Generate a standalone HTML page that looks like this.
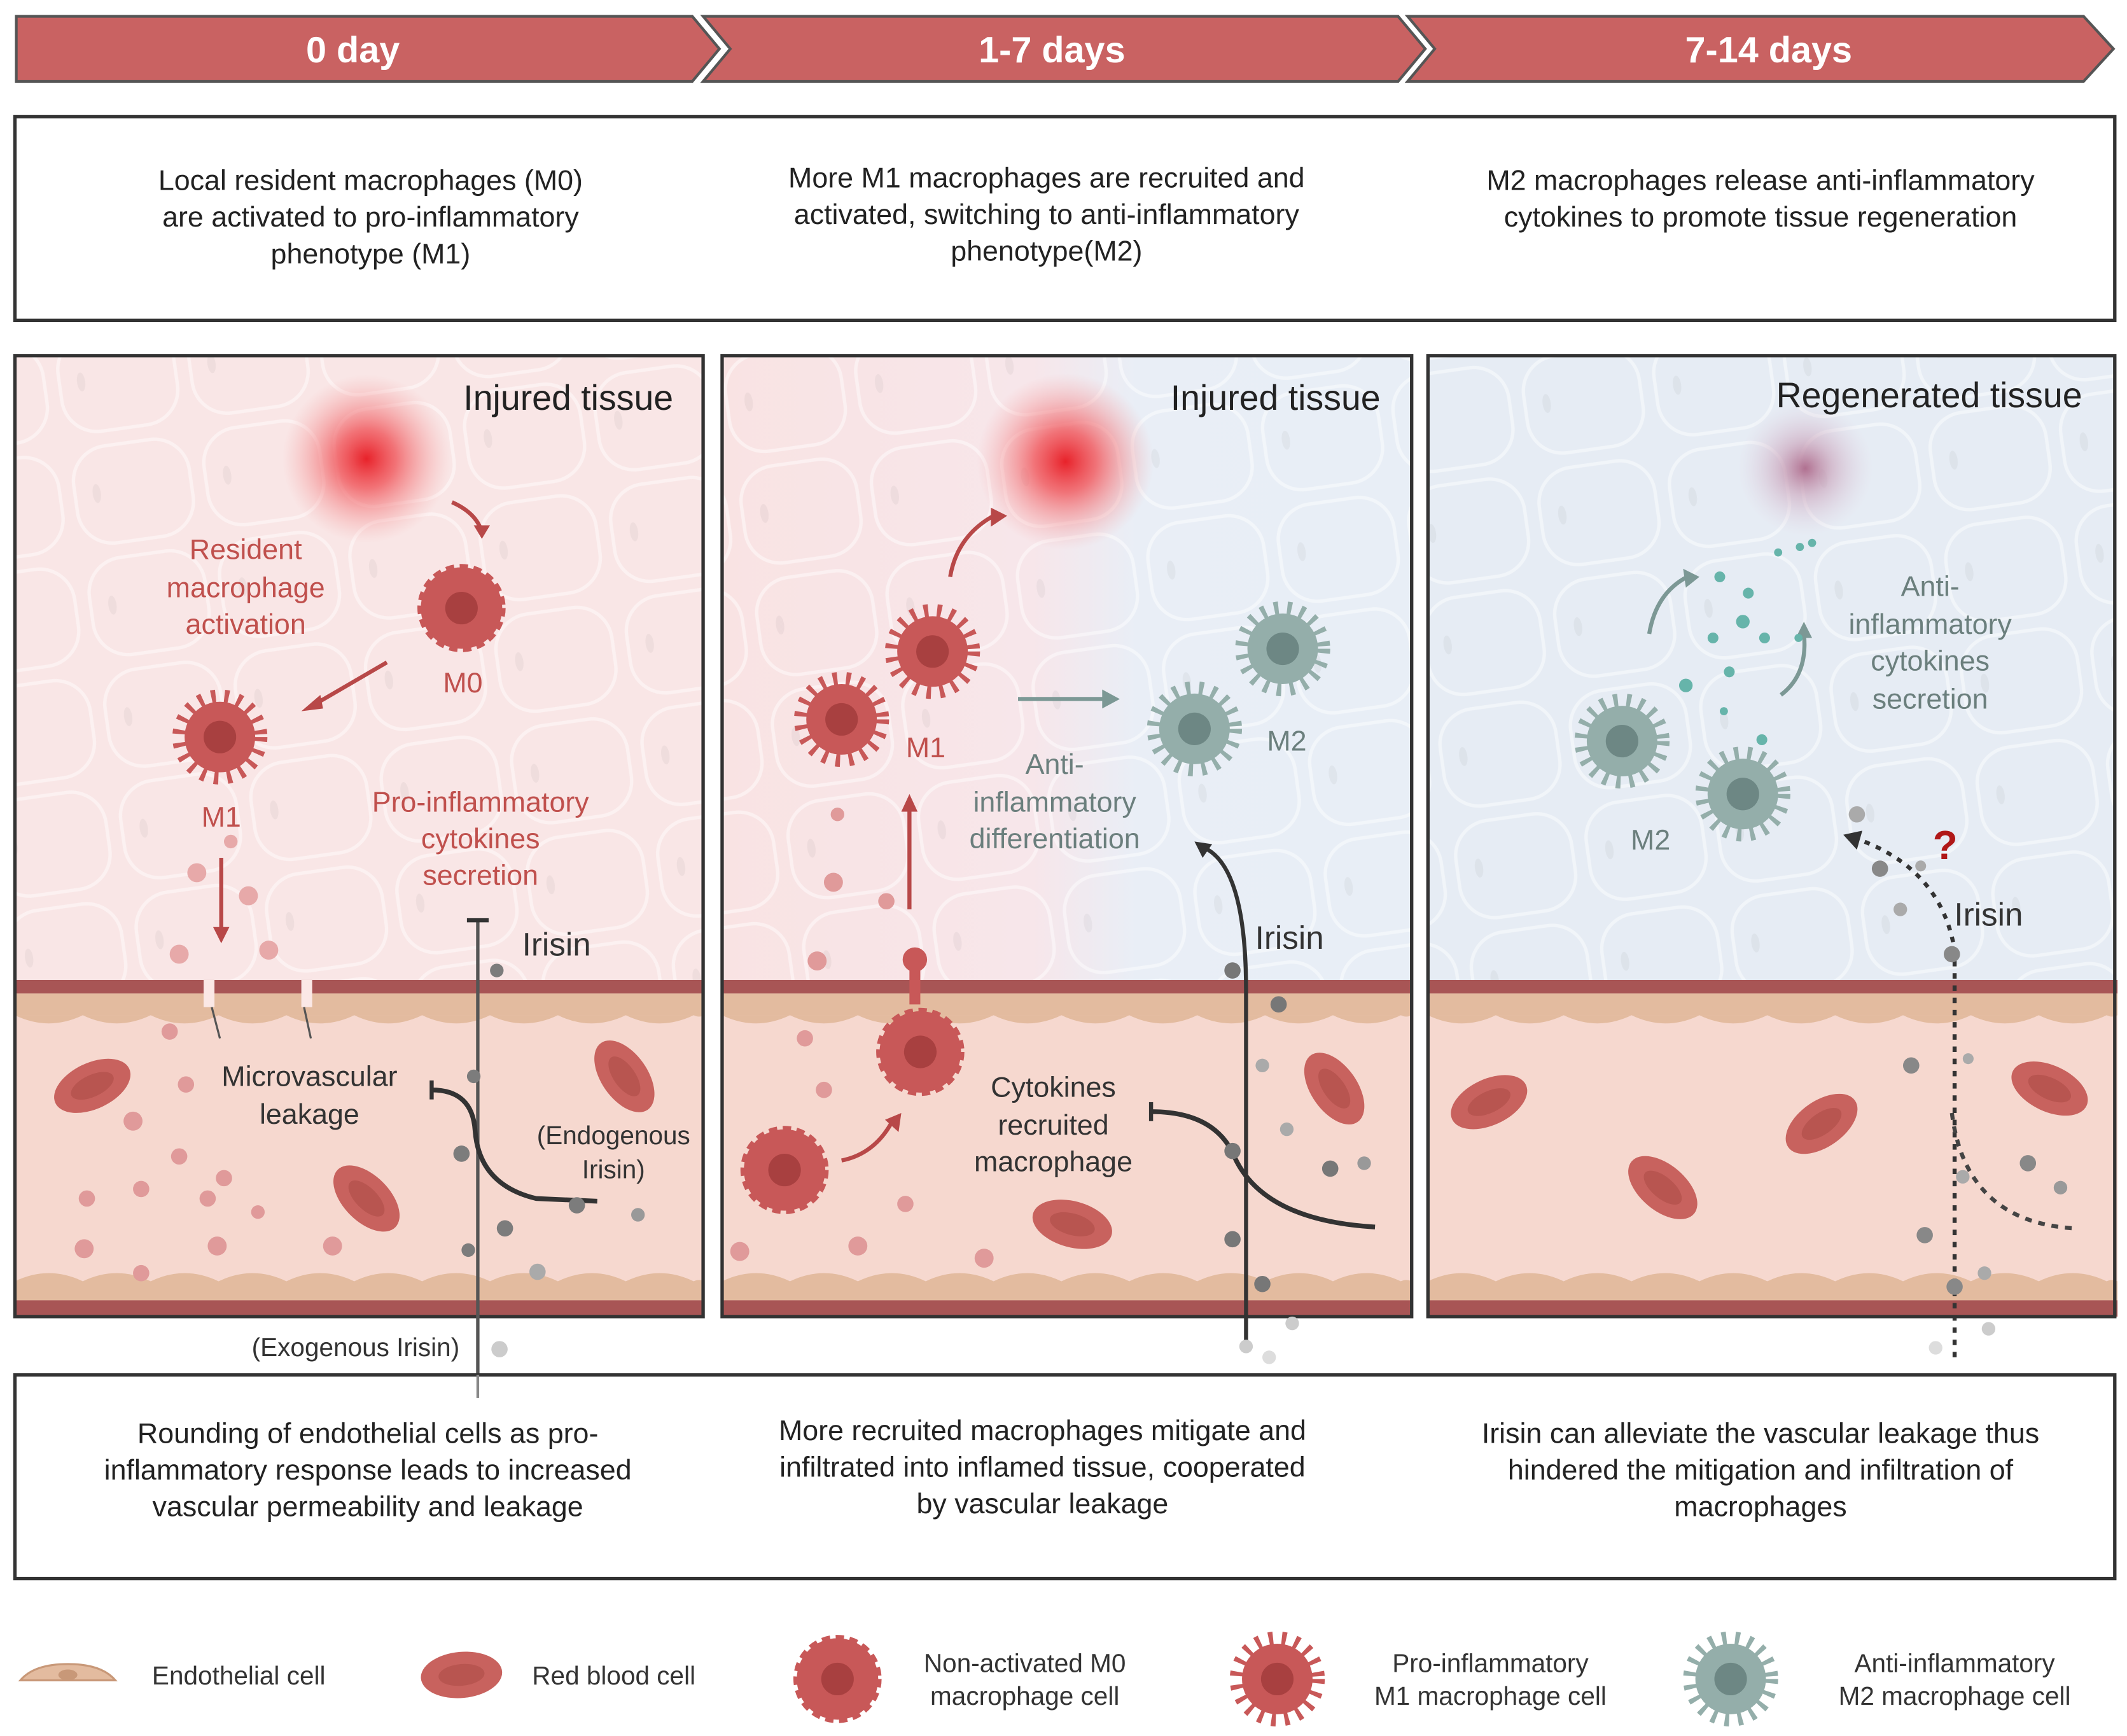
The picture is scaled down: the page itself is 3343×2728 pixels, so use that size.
<!DOCTYPE html>
<html><head><meta charset="utf-8"><style>
html,body{margin:0;padding:0;background:#fff;}
svg{display:block;}
text{font-family:"Liberation Sans",sans-serif;}
</style></head><body>
<svg width="3343" height="2728" viewBox="0 0 1567 1279" preserveAspectRatio="none" xmlns="http://www.w3.org/2000/svg">
<defs>
<radialGradient id="glow"><stop offset="0" stop-color="#e8222a"/><stop offset="0.35" stop-color="#f0555a" stop-opacity="0.8"/><stop offset="1" stop-color="#f5a0a0" stop-opacity="0"/></radialGradient>
<radialGradient id="glowp"><stop offset="0" stop-color="#b07090"/><stop offset="0.4" stop-color="#c9a0b8" stop-opacity="0.6"/><stop offset="1" stop-color="#e0d0e0" stop-opacity="0"/></radialGradient>
<linearGradient id="mid" x1="0" x2="1"><stop offset="0" stop-color="#f9e3e3"/><stop offset="0.45" stop-color="#f7e6ea"/><stop offset="0.6" stop-color="#e9eef6"/><stop offset="1" stop-color="#e8eef6"/></linearGradient>
<pattern id="cells" width="97" height="83" patternUnits="userSpaceOnUse" patternTransform="rotate(-8)">
<rect x="4" y="4" width="86" height="72" rx="26" fill="none" stroke="#ffffff" stroke-opacity="0.45" stroke-width="2.5"/>
<ellipse cx="20" cy="38" rx="3" ry="7" fill="#000" fill-opacity="0.04"/>
</pattern>
<g id="m1"><circle r="28" fill="none" stroke="#c85858" stroke-width="14" stroke-dasharray="3 6"/><circle r="26" fill="#c85858"/><circle r="12" fill="#a84040"/></g>
<g id="m2"><circle r="28" fill="none" stroke="#94aeaa" stroke-width="14" stroke-dasharray="3 6"/><circle r="26" fill="#94aeaa"/><circle r="12" fill="#6d8784"/></g>
<g id="m0"><circle r="30" fill="none" stroke="#c85858" stroke-width="5" stroke-dasharray="6 4"/><circle r="30" fill="#c85858"/><circle r="12" fill="#a84040"/></g>
<g id="rbc"><ellipse rx="30" ry="17" fill="#c8625e"/><ellipse rx="17" ry="8" fill="#b85550"/></g>
<g id="vessel">
<rect x="0" y="0" width="508" height="248" fill="#f6d8cf"/>
<rect x="0" y="0" width="508" height="10" fill="#a85555"/>
<rect x="0" y="10" width="508" height="16" fill="#e3bb9f"/>
<path d="M0 26 q25 12 50 0 q25 12 50 0 q25 12 50 0 q25 12 50 0 q25 12 50 0 q25 12 50 0 q25 12 50 0 q25 12 50 0 q25 12 50 0 q25 12 50 0 q4 2 8 0" fill="#e3bb9f"/>
<rect x="0" y="222" width="508" height="14" fill="#e3bb9f"/>
<path d="M0 222 q25 -12 50 0 q25 -12 50 0 q25 -12 50 0 q25 -12 50 0 q25 -12 50 0 q25 -12 50 0 q25 -12 50 0 q25 -12 50 0 q25 -12 50 0 q25 -12 50 0 q4 -2 8 0" fill="#e3bb9f"/>
<rect x="0" y="236" width="508" height="12" fill="#a85555"/>
</g>
</defs>

<polygon points="12,12 510,12 530,36 510,60 12,60" fill="#c96262" stroke="#555" stroke-width="2"/>
<polygon points="518,12 1030,12 1050,36 1030,60 518,60 538,36" fill="#c96262" stroke="#555" stroke-width="2"/>
<polygon points="1037,12 1535,12 1557,36 1535,60 1037,60 1057,36" fill="#c96262" stroke="#555" stroke-width="2"/>
<text x="260" y="46" font-size="27" font-weight="bold" fill="#fff" text-anchor="middle">0 day</text>
<text x="775" y="46" font-size="27" font-weight="bold" fill="#fff" text-anchor="middle">1-7 days</text>
<text x="1303" y="46" font-size="27" font-weight="bold" fill="#fff" text-anchor="middle">7-14 days</text>

<rect x="11" y="86" width="1547" height="150" fill="#fff" stroke="#333" stroke-width="2.5"/>
<g font-size="21" fill="#222" text-anchor="middle">
<text x="273" y="140">Local resident macrophages (M0)</text>
<text x="273" y="167">are activated to pro-inflammatory</text>
<text x="273" y="194">phenotype (M1)</text>
<text x="771" y="138">More  M1 macrophages are recruited and</text>
<text x="771" y="165">activated, switching to anti-inflammatory</text>
<text x="771" y="192">phenotype(M2)</text>
<text x="1297" y="140">M2 macrophages release anti-inflammatory</text>
<text x="1297" y="167">cytokines to promote tissue regeneration</text>
</g>

<rect x="11" y="262" width="507" height="708" fill="#f9e6e6"/>
<rect x="11" y="262" width="507" height="460" fill="url(#cells)"/>
<circle cx="270" cy="338" r="62" fill="url(#glow)"/>
<use href="#vessel" x="11" y="722"/>
<rect x="11" y="262" width="507" height="708" fill="none" stroke="#333" stroke-width="2.5"/>
<text x="496" y="302" font-size="26" fill="#222" text-anchor="end">Injured tissue</text>
<g font-size="21" fill="#c0504d" text-anchor="middle">
<text x="181" y="412">Resident</text><text x="181" y="440">macrophage</text><text x="181" y="467">activation</text>
<text x="354" y="598">Pro-inflammatory</text><text x="354" y="625">cytokines</text><text x="354" y="652">secretion</text>
<text x="341" y="510">M0</text><text x="163" y="609">M1</text>
</g>
<use href="#m0" x="340" y="448"/>
<use href="#m1" x="162" y="543"/>
<g stroke="#b84848" stroke-width="3" fill="none">
<path d="M333 370 q18 8 22 22"/><path d="M285 488 L230 520"/><path d="M163 632 L163 688"/>
</g>
<g fill="#b84848"><polygon points="349,387 361,387 355,397"/><polygon points="222,524 236,512 238,522"/><polygon points="157,683 169,683 163,695"/></g>
<g fill="#e7a9a9"><circle cx="145" cy="643" r="7"/><circle cx="183" cy="660" r="7"/><circle cx="132" cy="703" r="7"/><circle cx="198" cy="700" r="7"/><circle cx="170" cy="620" r="5"/></g>
<use href="#rbc" x="68" y="800" transform="rotate(-25 68 800)"/>
<use href="#rbc" x="460" y="793" transform="rotate(55 460 793)"/>
<use href="#rbc" x="270" y="883" transform="rotate(45 270 883)"/>
<g fill="#e09a9a"><circle cx="98" cy="826" r="7"/><circle cx="137" cy="799" r="6"/><circle cx="125" cy="760" r="6"/><circle cx="132" cy="852" r="6"/><circle cx="165" cy="868" r="6"/><circle cx="64" cy="883" r="6"/><circle cx="104" cy="876" r="6"/><circle cx="153" cy="883" r="6"/><circle cx="190" cy="893" r="5"/><circle cx="62" cy="920" r="7"/><circle cx="160" cy="918" r="7"/><circle cx="245" cy="918" r="7"/><circle cx="104" cy="938" r="6"/></g>
<g fill="#fbe8e6"><rect x="150" y="722" width="8" height="20"/><rect x="222" y="722" width="8" height="20"/></g>
<g stroke="#555" stroke-width="1.5"><line x1="162" y1="765" x2="156" y2="742"/><line x1="229" y1="765" x2="224" y2="742"/></g>
<g font-size="21" fill="#333" text-anchor="middle"><text x="228" y="800">Microvascular</text><text x="228" y="828">leakage</text>
<text x="452" y="843" font-size="19">(Endogenous</text><text x="452" y="868" font-size="19">Irisin)</text>
<text x="410" y="704" font-size="24">Irisin</text>
<text x="262" y="999" font-size="19">(Exogenous Irisin)</text></g>
<line x1="352" y1="678" x2="352" y2="1030" stroke="#555" stroke-width="2.5"/>
<line x1="344" y1="678" x2="360" y2="678" stroke="#333" stroke-width="3"/>
<path d="M318 803 q30 0 32 30 q3 40 45 50 L440 885" stroke="#333" stroke-width="3.5" fill="none"/>
<line x1="318" y1="796" x2="318" y2="810" stroke="#333" stroke-width="3"/>
<g fill="#7c7c7c"><circle cx="366" cy="715" r="5"/><circle cx="349" cy="793" r="5"/><circle cx="340" cy="850" r="6"/><circle cx="372" cy="905" r="6"/><circle cx="425" cy="888" r="6"/><circle cx="470" cy="895" r="5" fill="#999"/><circle cx="345" cy="921" r="5"/><circle cx="368" cy="994" r="6" fill="#ccc"/><circle cx="396" cy="937" r="6" fill="#aaa"/></g>

<rect x="532" y="262" width="508" height="708" fill="url(#mid)"/>
<rect x="532" y="262" width="508" height="460" fill="url(#cells)"/>
<circle cx="785" cy="340" r="65" fill="url(#glow)"/>
<use href="#vessel" x="532" y="722"/>
<rect x="532" y="262" width="508" height="708" fill="none" stroke="#333" stroke-width="2.5"/>
<text x="1017" y="302" font-size="26" fill="#222" text-anchor="end">Injured tissue</text>
<use href="#m1" x="620" y="530"/><use href="#m1" x="687" y="480"/>
<use href="#m2" x="945" y="478"/><use href="#m2" x="880" y="537"/>
<text x="682" y="558" font-size="21" fill="#c0504d" text-anchor="middle">M1</text>
<text x="948" y="553" font-size="21" fill="#6b7f7d" text-anchor="middle">M2</text>
<g font-size="21" fill="#6b7f7d" text-anchor="middle"><text x="777" y="570">Anti-</text><text x="777" y="598">inflammatory</text><text x="777" y="625">differentiation</text></g>
<path d="M700 425 q5 -30 32 -45" stroke="#b84848" stroke-width="3" fill="none"/><polygon points="730,374 742,380 730,388" fill="#b84848"/>
<line x1="750" y1="515" x2="815" y2="515" stroke="#7c9895" stroke-width="3"/><polygon points="812,508 825,515 812,522" fill="#7c9895"/>
<line x1="670" y1="670" x2="670" y2="595" stroke="#b84848" stroke-width="3"/><polygon points="664,598 676,598 670,585" fill="#b84848"/>
<path d="M674 705 L674 740" stroke="#c85858" stroke-width="8"/><circle cx="674" cy="707" r="9" fill="#c85858"/>
<use href="#m0" x="678" y="775"/>
<use href="#m0" x="578" y="862"/>
<path d="M620 855 q25 -5 38 -30" stroke="#b84848" stroke-width="3" fill="none"/><polygon points="652,825 664,820 662,834" fill="#b84848"/>
<use href="#rbc" x="983" y="802" transform="rotate(55 983 802)"/>
<use href="#rbc" x="790" y="902" transform="rotate(15 790 902)"/>
<g fill="#e09a9a"><circle cx="614" cy="650" r="7"/><circle cx="602" cy="708" r="7"/><circle cx="653" cy="664" r="6"/><circle cx="617" cy="600" r="5"/><circle cx="593" cy="765" r="6"/><circle cx="607" cy="803" r="6"/><circle cx="545" cy="922" r="7"/><circle cx="632" cy="918" r="7"/><circle cx="725" cy="927" r="7"/><circle cx="667" cy="887" r="6"/></g>
<g font-size="21" fill="#333" text-anchor="middle"><text x="776" y="808">Cytokines</text><text x="776" y="836">recruited</text><text x="776" y="863">macrophage</text>
<text x="950" y="699" font-size="24">Irisin</text></g>
<path d="M918 990 L918 730 q0 -90 -30 -105" stroke="#333" stroke-width="3" fill="none"/><polygon points="880,620 893,622 886,632" fill="#333"/>
<path d="M848 819 q45 0 60 30 q20 50 105 55" stroke="#333" stroke-width="3.5" fill="none"/>
<line x1="848" y1="812" x2="848" y2="826" stroke="#333" stroke-width="3"/>
<g fill="#777"><circle cx="908" cy="715" r="6"/><circle cx="942" cy="740" r="6"/><circle cx="930" cy="785" r="5" fill="#aaa"/><circle cx="908" cy="848" r="6"/><circle cx="948" cy="832" r="5" fill="#aaa"/><circle cx="980" cy="861" r="6"/><circle cx="1005" cy="857" r="5" fill="#999"/><circle cx="908" cy="913" r="6"/><circle cx="930" cy="946" r="6"/><circle cx="952" cy="975" r="5" fill="#ccc"/><circle cx="935" cy="1000" r="5" fill="#ddd"/><circle cx="918" cy="992" r="5" fill="#ccc"/></g>

<rect x="1052" y="262" width="506" height="708" fill="#e6ecf4"/>
<rect x="1052" y="262" width="506" height="460" fill="url(#cells)"/>
<circle cx="1330" cy="345" r="50" fill="url(#glowp)"/>
<use href="#vessel" x="1052" y="722"/>
<rect x="1052" y="262" width="506" height="708" fill="none" stroke="#333" stroke-width="2.5"/>
<text x="1534" y="300" font-size="26" fill="#222" text-anchor="end">Regenerated tissue</text>
<use href="#m2" x="1195" y="546"/><use href="#m2" x="1284" y="585"/>
<text x="1216" y="626" font-size="21" fill="#6b7f7d" text-anchor="middle">M2</text>
<g font-size="21" fill="#6b7f7d" text-anchor="middle"><text x="1422" y="439">Anti-</text><text x="1422" y="467">inflammatory</text><text x="1422" y="494">cytokines</text><text x="1422" y="522">secretion</text></g>
<path d="M1215 467 q5 -30 28 -42" stroke="#7c9895" stroke-width="3" fill="none"/><polygon points="1240,419 1252,425 1242,433" fill="#7c9895"/>
<path d="M1312 512 q20 -15 17 -45" stroke="#7c9895" stroke-width="3" fill="none"/><polygon points="1323,470 1335,470 1329,458" fill="#7c9895"/>
<g fill="#66b4aa"><circle cx="1267" cy="425" r="4"/><circle cx="1288" cy="437" r="4"/><circle cx="1310" cy="407" r="3"/><circle cx="1284" cy="458" r="5"/><circle cx="1262" cy="470" r="4"/><circle cx="1242" cy="505" r="5"/><circle cx="1274" cy="495" r="4"/><circle cx="1300" cy="470" r="4"/><circle cx="1326" cy="403" r="3"/><circle cx="1335" cy="400" r="3"/><circle cx="1270" cy="524" r="3"/><circle cx="1298" cy="545" r="4"/><circle cx="1325" cy="470" r="3"/></g>
<text x="1433" y="633" font-size="30" font-weight="bold" fill="#b01818" text-anchor="middle">?</text>
<text x="1465" y="682" font-size="24" fill="#333" text-anchor="middle">Irisin</text>
<path d="M1440 1000 L1440 700 q-10 -60 -72 -82" stroke="#333" stroke-width="3" stroke-dasharray="4 5" fill="none"/><polygon points="1358,615 1372,612 1368,626" fill="#333"/>
<path d="M1438 820 q10 80 90 85" stroke="#444" stroke-width="3" stroke-dasharray="5 5" fill="none"/>
<use href="#rbc" x="1097" y="812" transform="rotate(-25 1097 812)"/>
<use href="#rbc" x="1342" y="828" transform="rotate(-35 1342 828)"/>
<use href="#rbc" x="1225" y="875" transform="rotate(40 1225 875)"/>
<use href="#rbc" x="1510" y="802" transform="rotate(25 1510 802)"/>
<g fill="#888"><circle cx="1368" cy="600" r="6" fill="#aaa"/><circle cx="1385" cy="640" r="6"/><circle cx="1415" cy="638" r="4" fill="#aaa"/><circle cx="1400" cy="670" r="5" fill="#aaa"/><circle cx="1438" cy="703" r="6"/><circle cx="1408" cy="785" r="6"/><circle cx="1450" cy="780" r="4" fill="#aaa"/><circle cx="1494" cy="857" r="6"/><circle cx="1446" cy="867" r="5" fill="#aaa"/><circle cx="1418" cy="910" r="6"/><circle cx="1462" cy="938" r="5" fill="#aaa"/><circle cx="1440" cy="948" r="6"/><circle cx="1465" cy="979" r="5" fill="#ccc"/><circle cx="1426" cy="993" r="5" fill="#ddd"/><circle cx="1518" cy="875" r="5" fill="#999"/></g>

<rect x="11" y="1013" width="1547" height="150" fill="#fff" stroke="#333" stroke-width="2.5"/>
<line x1="352" y1="1013" x2="352" y2="1030" stroke="#888" stroke-width="2"/>
<g font-size="21" fill="#222" text-anchor="middle">
<text x="271" y="1063">Rounding of endothelial cells as pro-</text>
<text x="271" y="1090">inflammatory response leads to increased</text>
<text x="271" y="1117">vascular permeability and leakage</text>
<text x="768" y="1061">More recruited macrophages mitigate and</text>
<text x="768" y="1088">infiltrated into inflamed tissue, cooperated</text>
<text x="768" y="1115">by  vascular leakage</text>
<text x="1297" y="1063">Irisin can alleviate the vascular leakage thus</text>
<text x="1297" y="1090">hindered the mitigation and infiltration of</text>
<text x="1297" y="1117">macrophages</text>
</g>

<path d="M15 1238 q10 -12 35 -12 q25 0 35 12 z" fill="#e3bb9f" stroke="#c89878" stroke-width="1.5"/>
<ellipse cx="50" cy="1234" rx="7" ry="4" fill="#c89878"/>
<g transform="translate(340 1234) rotate(-5)"><use href="#rbc"/></g>
<use href="#m0" x="617" y="1237"/>
<use href="#m1" x="941" y="1237"/>
<use href="#m2" x="1275" y="1237"/>
<g font-size="19" fill="#333">
<text x="112" y="1241">Endothelial cell</text>
<text x="392" y="1241">Red blood cell</text>
<text x="755" y="1232" text-anchor="middle">Non-activated M0</text><text x="755" y="1256" text-anchor="middle">macrophage cell</text>
<text x="1098" y="1232" text-anchor="middle">Pro-inflammatory</text><text x="1098" y="1256" text-anchor="middle">M1 macrophage cell</text>
<text x="1440" y="1232" text-anchor="middle">Anti-inflammatory</text><text x="1440" y="1256" text-anchor="middle">M2 macrophage cell</text>
</g>
</svg>
</body></html>
